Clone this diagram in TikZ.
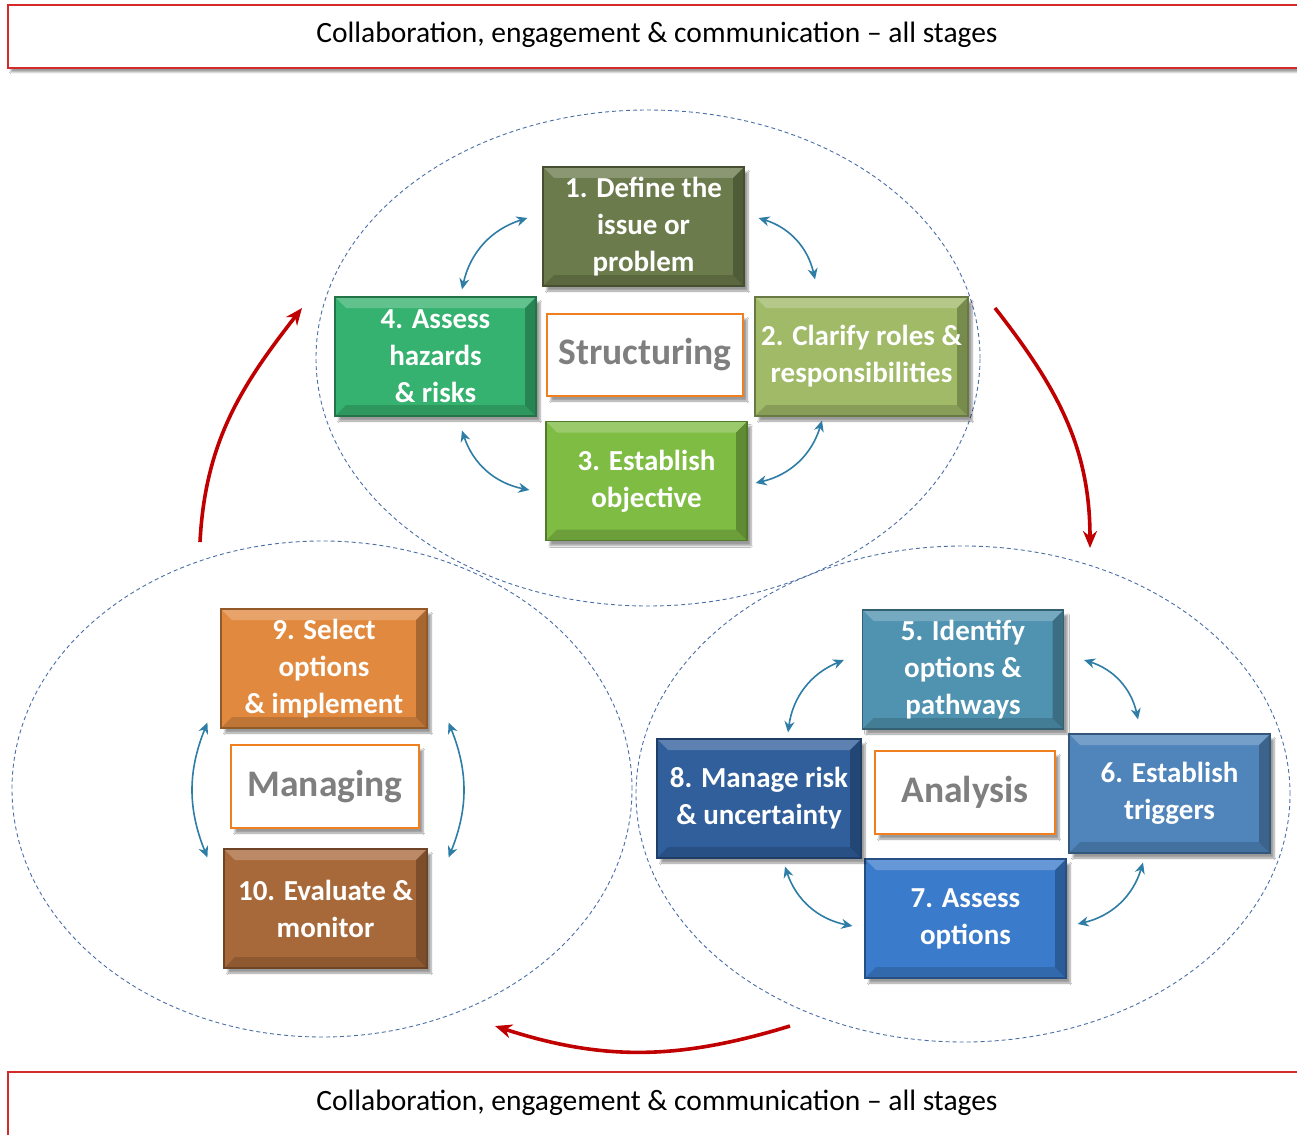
\documentclass[tikz,border=0pt]{standalone}
\usepackage{fontspec}
\setmainfont{Carlito}
\usetikzlibrary{arrows.meta,shadows.blur}
\definecolor{cred}{HTML}{C00000}
\definecolor{cframe}{HTML}{D42A2A}
\definecolor{cdash}{HTML}{4A6FA5}
\definecolor{clink}{HTML}{2E7DA6}
\definecolor{corange}{HTML}{F07F20}
\definecolor{cgrey}{HTML}{7F7F7F}
\definecolor{cdefine}{HTML}{6B7B4B}
\definecolor{cclarify}{HTML}{A0BA68}
\definecolor{cobjective}{HTML}{7FBC44}
\definecolor{chazard}{HTML}{35B26F}
\definecolor{cidentify}{HTML}{4F93B0}
\definecolor{ctrigger}{HTML}{4F85BB}
\definecolor{cassess}{HTML}{3B7BCB}
\definecolor{cmanage}{HTML}{305F9C}
\definecolor{cselect}{HTML}{E18A3F}
\definecolor{cevaluate}{HTML}{A8693A}
% bevelled edges of the step boxes
\newcommand{\bevel}{%
  \fill[white,opacity=.22] (path picture bounding box.north west) -- (path picture bounding box.north east)
    -- ([shift={(-11,-11)}]path picture bounding box.north east) -- ([shift={(11,-11)}]path picture bounding box.north west) -- cycle;
  \fill[black,opacity=.25] (path picture bounding box.north east) -- (path picture bounding box.south east)
    -- ([shift={(-11,11)}]path picture bounding box.south east) -- ([shift={(-11,-11)}]path picture bounding box.north east) -- cycle;
  \fill[black,opacity=.15] (path picture bounding box.south west) -- (path picture bounding box.south east)
    -- ([shift={(-11,11)}]path picture bounding box.south east) -- ([shift={(11,11)}]path picture bounding box.south west) -- cycle;
}
\tikzset{
  stepbox/.style={draw=#1!65!black, line width=1.2pt, fill=#1, text=white,
    font=\fontsize{29}{37}\selectfont\bfseries, align=center,
    minimum width=201pt, minimum height=119pt, inner sep=2pt,
    blur shadow={shadow xshift=4pt, shadow yshift=-5pt, shadow blur steps=6},
    path picture={\bevel}},
  stagebox/.style={draw=corange, line width=1.8pt, fill=white, text=cgrey,
    font=\fontsize{37.5}{40}\selectfont\bfseries,
    blur shadow={shadow xshift=4pt, shadow yshift=-5pt, shadow blur steps=6}},
  banner/.style={draw=cframe, line width=1.2pt, fill=white,
    blur shadow={shadow xshift=3pt, shadow yshift=-4pt, shadow blur steps=6}},
  region/.style={draw=cdash, line width=0.9pt, dash pattern=on 4pt off 3pt},
  linkarrow/.style={{Stealth[length=11pt,width=10pt]}-{Stealth[length=11pt,width=10pt]}, line width=1.6pt, draw=clink},
  flowarrow/.style={-{Stealth[length=17pt,width=14pt]}, line width=3.6pt, draw=cred}
}

\begin{document}
\begin{tikzpicture}[x=1pt,y=1pt]
  \fill[white] (0,0) rectangle (1297,-1134);
  \useasboundingbox (0,0) rectangle (1297,-1134);

  % dashed regions
  \draw[region] (648,-358) ellipse [x radius=332, y radius=248];
  \draw[region] (322,-789) ellipse [x radius=310, y radius=248];
  \draw[region] (963,-794) ellipse [x radius=327, y radius=248];

  % banners
  \draw[banner] (8,-5) rectangle (1320,-68);
  \draw[banner] (8,-1072) rectangle (1320,-1150);
  \node (topbanner) at (657,-35) {\fontsize{29.5}{34}\selectfont Collaboration, engagement \& communication – all stages};
  \node (botbanner) at (657,-1103) {\fontsize{29.5}{34}\selectfont Collaboration, engagement \& communication – all stages};

  % structuring
  \node[stepbox=cdefine] (define) at (643.5,-226.5) {1. Define the\\issue or\\problem};
  \node[stepbox=cclarify, minimum width=213pt] (clarify) at (861.5,-356.5) {2. Clarify roles \&\\responsibilities};
  \node[stepbox=cobjective] (objective) at (646.5,-481) {3. Establish\\objective};
  \node[stepbox=chazard] (hazard) at (435.5,-356.5) {4. Assess\\hazards\\\& risks};
  \node[stagebox, minimum width=196pt, minimum height=82pt] (structuring) at (645,-355) {Structuring};

  % analysis
  \node[stepbox=cidentify] (identify) at (963,-669.5) {5. Identify\\options \&\\pathways};
  \node[stepbox=ctrigger] (trigger) at (1169.5,-793.5) {6. Establish\\triggers};
  \node[stepbox=cassess] (assess) at (965.5,-918.5) {7. Assess\\options};
  \node[stepbox=cmanage, minimum width=204pt] (manage) at (759,-798.5) {8. Manage risk\\\& uncertainty};
  \node[stagebox, minimum width=180pt, minimum height=83pt] (analysis) at (965,-792.5) {Analysis};

  % managing
  \node[stepbox=cselect, minimum width=206pt] (select) at (324,-668.5) {9. Select\\options\\\& implement};
  \node[stepbox=cevaluate, minimum width=203pt] (evaluate) at (325.5,-908.5) {10. Evaluate \&\\monitor};
  \node[stagebox, minimum width=188pt, minimum height=83pt] (managing) at (325,-786.5) {Managing};

  % links inside each stage
  \draw[linkarrow] ([shift={(-15,8.5)}]define.west) to[bend right=30] ([shift={(26.5,7)}]hazard.north);
  \draw[linkarrow] ([shift={(14,8.5)}]define.east) to[bend left=30] ([shift={(-46.5,17)}]clarify.north);
  \draw[linkarrow] ([shift={(-39.5,-4)}]clarify.south) to[bend left=30] ([shift={(8,-2)}]objective.east);
  \draw[linkarrow] ([shift={(26.5,-14)}]hazard.south) to[bend right=30] ([shift={(-16,-9)}]objective.west);

  \draw[linkarrow] ([shift={(-18,9.5)}]identify.west) to[bend right=30] ([shift={(29,6)}]manage.north);
  \draw[linkarrow] ([shift={(20,9.5)}]identify.east) to[bend left=30] ([shift={(-31.5,14)}]trigger.north);
  \draw[linkarrow] ([shift={(-26.5,-9)}]trigger.south) to[bend left=30] ([shift={(11,-5.5)}]assess.east);
  \draw[linkarrow] ([shift={(26,-8)}]manage.south) to[bend right=30] ([shift={(-12,-7.5)}]assess.west);

  \draw[linkarrow] ([shift={(-13,6)}]select.south west) to[bend right=22] ([shift={(-16,-9)}]evaluate.north west);
  \draw[linkarrow] ([shift={(21,6)}]select.south east) to[bend left=22] ([shift={(21,-9)}]evaluate.north east);

  % flow between stages
  \coordinate (managingout) at (200,-542);
  \coordinate (structuringin) at (302,-308);
  \coordinate (structuringout) at (995,-308);
  \coordinate (analysisin) at (1090,-548);
  \coordinate (analysisout) at (790,-1026);
  \coordinate (managingin) at (495,-1026);
  \draw[flowarrow] (managingout) to[out=87,in=-128] (structuringin);
  \draw[flowarrow] (structuringout) to[out=-52,in=90] (analysisin);
  \draw[flowarrow] (analysisout) to[out=-163,in=-18] (managingin);
\end{tikzpicture}
\end{document}
